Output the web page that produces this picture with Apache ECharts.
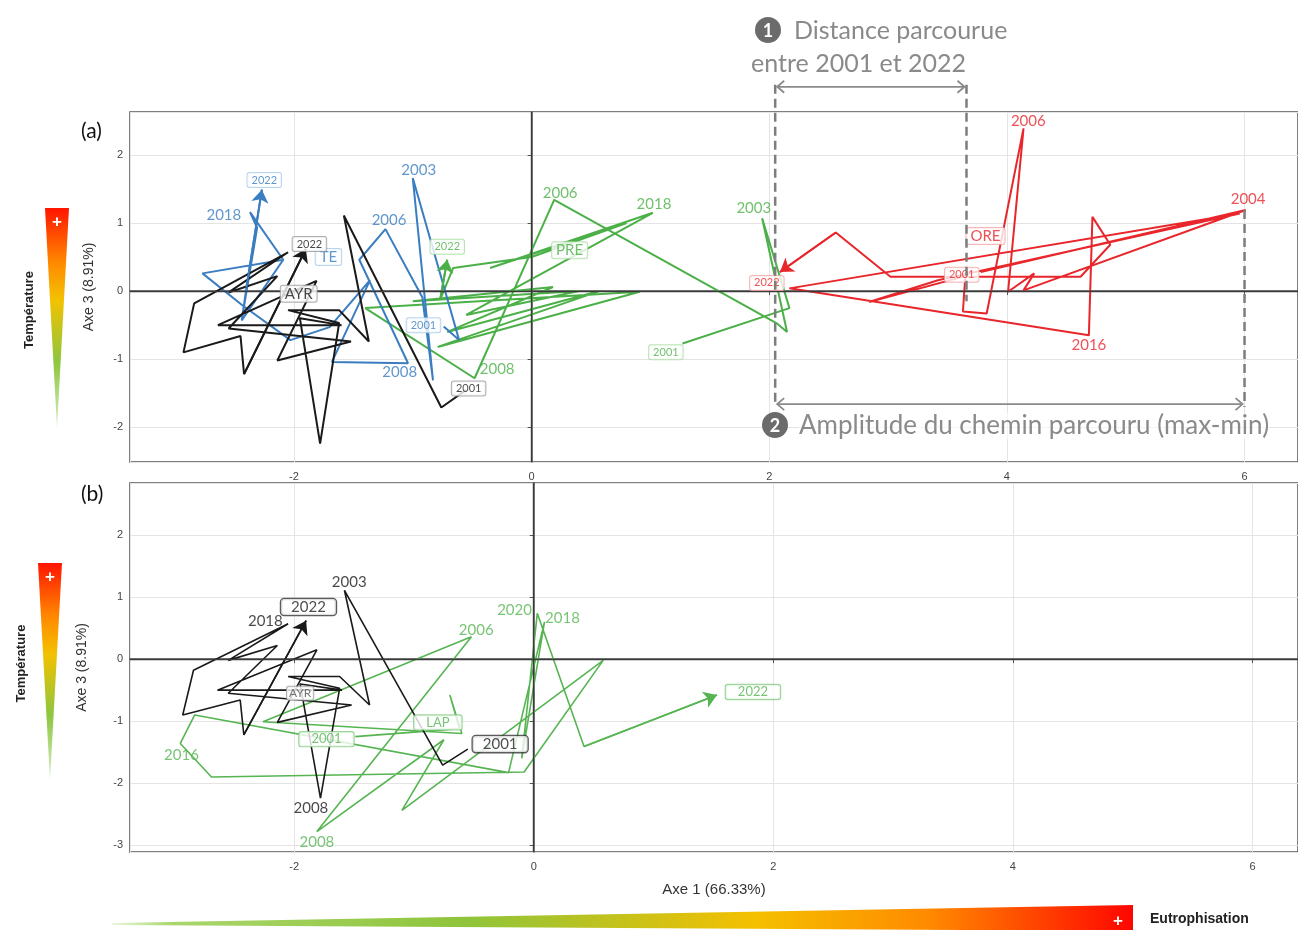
<!DOCTYPE html>
<html><head><meta charset="utf-8">
<script src="https://cdn.jsdelivr.net/npm/echarts@6/dist/echarts.min.js"></script>
<style>html,body{margin:0;padding:0;background:#fff}#c{width:1298px;height:930px}</style>
</head><body><div id="c"></div>
<script>
// ---------- data (Axe 1, Axe 3) ----------
const TE_a = [[-0.74,-0.52],[-0.61,-0.72],[-1.00,1.66],[-0.83,-1.31],[-0.92,-0.09],[-1.23,0.91],[-1.45,0.46],[-1.04,-1.06],[-1.68,-1.04],[-1.36,0.16],[-1.70,-0.53],[-2.03,-0.72],[-2.44,-0.20],[-2.77,0.26],[-2.09,0.46],[-2.44,-0.43],[-2.31,0.93],[-2.37,1.16],[-2.09,0.46],[-2.44,-0.43],[-2.40,0.05],[-2.27,1.49]];
const AYR = [[-0.55,-1.45],[-0.76,-1.71],[-1.58,1.11],[-1.37,-0.74],[-1.62,-0.28],[-2.05,-0.28],[-1.62,-0.47],[-1.78,-2.24],[-1.95,-0.40],[-1.60,-0.50],[-2.64,-0.50],[-1.81,0.15],[-2.14,-1.02],[-1.52,-0.74],[-2.55,-0.55],[-2.14,0.22],[-2.55,-0.02],[-2.05,0.57],[-2.84,-0.18],[-2.93,-0.90],[-2.45,-0.66],[-2.42,-1.22],[-1.90,0.62]];
const PRE_a = [[1.27,-0.77],[2.17,-0.25],[1.94,1.07],[2.15,-0.60],[2.06,-0.47],[0.19,1.34],[-0.48,-1.28],[-1.40,-0.25],[0.91,-0.01],[-0.79,-0.82],[0.57,0.00],[-0.71,-0.60],[0.18,0.06],[-1.00,-0.15],[0.40,0.00],[-0.55,-0.35],[1.02,1.15],[-0.35,0.34],[0.80,1.00],[0.00,0.50],[-0.66,0.34],[-0.77,-0.13],[-0.71,0.46]];
const ORE_a = [[3.78,0.28],[6.01,1.19],[4.14,0.01],[4.23,0.26],[4.01,-0.01],[4.14,2.39],[3.83,-0.33],[3.63,-0.30],[3.65,0.22],[2.84,-0.16],[3.42,0.16],[5.96,1.14],[2.17,0.04],[4.69,-0.65],[4.72,1.09],[4.87,0.68],[4.62,0.21],[3.02,0.21],[2.56,0.86],[2.09,0.28]];
const LAP_b = [[-1.49,-1.25],[-0.62,-1.12],[-0.70,-0.58],[-0.60,-1.20],[-2.26,-1.01],[-0.52,0.36],[-1.81,-2.78],[-0.75,-1.30],[-1.10,-2.44],[0.58,-0.02],[-0.08,-1.82],[-2.69,-1.90],[-2.95,-1.36],[-2.83,-0.90],[-0.21,-1.83],[0.09,0.60],[-0.10,-1.60],[0.03,0.74],[0.42,-1.41],[1.53,-0.58]];

// labels: [text, axe1, axe3, station, style]
const labelsA = [
 ['2022',-2.25,1.63,'TE','s'],['2018',-2.59,1.12,'TE','p'],['2003',-0.95,1.78,'TE','p'],
 ['2006',-1.20,1.04,'TE','p'],['TE',-1.71,0.50,'TE','n'],['2001',-0.91,-0.50,'TE','s'],['2008',-1.11,-1.19,'TE','p'],
 ['2022',-1.87,0.69,'AYR','s'],['AYR',-1.96,-0.04,'AYR','n'],['2001',-0.53,-1.43,'AYR','s'],
 ['2022',-0.71,0.65,'PRE','s'],['PRE',0.32,0.60,'PRE','n'],['2006',0.24,1.44,'PRE','p'],['2018',1.03,1.28,'PRE','p'],
 ['2008',-0.29,-1.15,'PRE','p'],['2003',1.87,1.22,'PRE','p'],['2001',1.13,-0.90,'PRE','s'],
 ['2006',4.18,2.50,'ORE','p'],['2004',6.03,1.35,'ORE','p'],['ORE',3.82,0.81,'ORE','n'],
 ['2001',3.62,0.24,'ORE','s'],['2022',1.98,0.12,'ORE','s'],['2016',4.69,-0.79,'ORE','p']
];
const labelsB = [
 ['2003',-1.54,1.24,'AYR','p'],['2022',-1.88,0.84,'AYR','B'],['2018',-2.24,0.61,'AYR','p'],
 ['AYR',-1.95,-0.55,'AYR','t'],['2008',-1.86,-2.40,'AYR','p'],['2001',-0.28,-1.37,'AYR','B'],
 ['2020',-0.16,0.79,'LAP','p'],['2018',0.24,0.66,'LAP','p'],['2006',-0.48,0.47,'LAP','p'],
 ['LAP',-0.80,-1.02,'LAP','g'],['2001',-1.73,-1.29,'LAP','g'],['2016',-2.94,-1.55,'LAP','p'],
 ['2008',-1.81,-2.95,'LAP','p'],['2022',1.83,-0.53,'LAP','g']
];
// annotation positions (Axe 1 / Axe 3 units, panel a)
const annX = [2.05, 3.66, 6.0];
const annY = {top:3.03, br1:3.0, br2:-1.66, bottom:-1.70, midEnd:-0.15, rightTop:1.19};

// ---------- styles ----------
const COL = {TE:'#3a7dc0', AYR:'#1a1a1a', PRE:'#4cb048', ORE:'#e8262b', LAP:'#56b552'};
const LIGHT = {TE:'#a9cbea', AYR:'#9a9a9a', PRE:'#a8dca2', ORE:'#f5a5a5', LAP:'#86cc83'};
const FONT = 'Lato, "Open Sans", sans-serif';

function labelItem(l){
  const [t,x,y,st,sty] = l;
  const lab = {show:true, position:'inside', color:COL[st], fontFamily:FONT, fontSize:15};
  if (sty==='s'){ Object.assign(lab,{fontSize:11, backgroundColor:'#fff', borderColor:LIGHT[st], borderWidth:1, borderRadius:2, padding:[2,4,1,4]}); }
  if (sty==='n'){ Object.assign(lab,{fontSize:15, backgroundColor:'#fff', borderColor:LIGHT[st], borderWidth:1, borderRadius:2, padding:[1,4,0,4]}); }
  if (sty==='B'){ Object.assign(lab,{fontSize:15, color:'#222', backgroundColor:'#fff', borderColor:'#333', borderWidth:1.3, borderRadius:3, padding:[1,10,0,10]}); }
  if (sty==='t'){ Object.assign(lab,{fontSize:12, color:'#555', backgroundColor:'#fff', borderColor:'#999', borderWidth:1, borderRadius:2, padding:[1,2,0,2]}); }
  if (sty==='g'){ Object.assign(lab,{fontSize:13, backgroundColor:'#fff', borderColor:LIGHT[st], borderWidth:1.2, borderRadius:2, padding:[1,12,0,12]}); }
  return {name:t, value:[x,y], label:lab};
}

function track(data, st, gi, width){
  return [{
    type:'line', xAxisIndex:gi, yAxisIndex:gi, data:data, showSymbol:false, symbol:'none',
    lineStyle:{color:COL[st], width:width}, z:3, silent:true, animation:false
  },{
    type:'lines', coordinateSystem:'cartesian2d', xAxisIndex:gi, yAxisIndex:gi, z:4, silent:true, animation:false,
    symbol:['none','arrow'], symbolSize:[11,13],
    lineStyle:{color:COL[st], width:width, opacity:1, curveness:0},
    data:[{coords:[data[data.length-2], data[data.length-1]]}]
  }];
}

function zeroLines(gi){
  return {type:'scatter', xAxisIndex:gi, yAxisIndex:gi, data:[[0,0]], symbolSize:0, silent:true, z:2,
    markLine:{silent:true, symbol:'none', animation:false, label:{show:false},
      lineStyle:{color:'#3a3a3a', width:1.4, type:'solid'}, data:[{xAxis:0},{yAxis:0}]}};
}

function xAx(gi,min,max,name){
  return {gridIndex:gi, type:'value', min:min, max:max, minInterval:2, maxInterval:2,
    name:name||'', nameLocation:'middle', nameGap:30,
    nameTextStyle:{fontSize:15, color:'#333', fontFamily:'"Liberation Sans", Arial, sans-serif'},
    axisLine:{show:true, lineStyle:{color:'#555', width:1.5}},
    axisTick:{show:true, length:4, lineStyle:{color:'#555'}},
    axisLabel:{showMinLabel:false, showMaxLabel:false, fontSize:11, color:'#444', margin:9, fontFamily:'"Liberation Sans", Arial, sans-serif'},
    splitLine:{show:true, lineStyle:{color:'#e4e4e4', width:1}}};
}
function yAx(gi,min,max,gap){
  return {gridIndex:gi, type:'value', min:min, max:max, minInterval:1, maxInterval:1,
    name:'Axe 3 (8.91%)', nameLocation:'middle', nameGap:gap, nameRotate:90,
    nameTextStyle:{fontSize:14, color:'#333', fontFamily:'"Liberation Sans", Arial, sans-serif'},
    axisLine:{show:true, lineStyle:{color:'#555', width:1.5}},
    axisTick:{show:true, length:4, lineStyle:{color:'#555'}},
    axisLabel:{showMinLabel:false, showMaxLabel:false, fontSize:11, color:'#444', margin:7, fontFamily:'"Liberation Sans", Arial, sans-serif'},
    splitLine:{show:true, lineStyle:{color:'#e4e4e4', width:1}}};
}

const chart = echarts.init(document.getElementById('c'), null, {renderer:'canvas'});
const series = [
  zeroLines(0), zeroLines(1),
  ...track(PRE_a,'PRE',0,2), ...track(ORE_a,'ORE',0,2), ...track(TE_a,'TE',0,2), ...track(AYR,'AYR',0,2),
  ...track(LAP_b,'LAP',1,1.6), ...track(AYR,'AYR',1,1.6),
  {type:'scatter', xAxisIndex:0, yAxisIndex:0, symbolSize:1, itemStyle:{color:'rgba(0,0,0,0)'}, z:6, silent:true, animation:false,
   label:{show:true, formatter:'{b}'}, labelLayout:{hideOverlap:false}, data:labelsA.map(labelItem)},
  {type:'scatter', xAxisIndex:1, yAxisIndex:1, symbolSize:1, itemStyle:{color:'rgba(0,0,0,0)'}, z:6, silent:true, animation:false,
   label:{show:true, formatter:'{b}'}, labelLayout:{hideOverlap:false}, data:labelsB.map(labelItem)}
];

chart.setOption({
  animation:false, backgroundColor:'#fff',
  grid:[
    {left:130, top:112, width:1170, height:350, show:true, borderColor:'#555', borderWidth:1.5, backgroundColor:'#fff'},
    {left:130, top:483, width:1170, height:369, show:true, borderColor:'#555', borderWidth:1.5, backgroundColor:'#fff'}
  ],
  xAxis:[xAx(0,-3.38,6.45), xAx(1,-3.37,6.38,'Axe 1 (66.33%)')],
  yAxis:[yAx(0,-2.51,2.63,34), yAx(1,-3.11,2.84,41)],
  series:series
});

// ---------- decorations ----------
const P = (x,y)=>chart.convertToPixel({xAxisIndex:0,yAxisIndex:0},[x,y]);
const gray='#7d7d7d', lightGray='#8a8a8a';
const pL=P(annX[0],annY.top), pM=P(annX[1],annY.top), pR=P(annX[2],annY.rightTop);
const yB1=P(0,annY.br1)[1], yB2=P(0,annY.br2)[1], yBot=P(0,annY.bottom)[1], yMid=P(0,annY.midEnd)[1];
const dash={stroke:gray, lineWidth:2.5, lineDash:[9,5]};
const g=[];
g.push({type:'line', shape:{x1:pL[0],y1:pL[1],x2:pL[0],y2:yBot}, style:dash, z:10});
g.push({type:'line', shape:{x1:pM[0],y1:pM[1],x2:pM[0],y2:yMid}, style:dash, z:10});
g.push({type:'line', shape:{x1:pR[0],y1:pR[1],x2:pR[0],y2:yBot}, style:dash, z:10});
function bracket(xa,xb,y){
  const s={stroke:lightGray, lineWidth:1.8, fill:null};
  g.push({type:'line', shape:{x1:xa+2,y1:y,x2:xb-2,y2:y}, style:s, z:11});
  g.push({type:'polyline', shape:{points:[[xa+9,y-6],[xa+2,y],[xa+9,y+6]]}, style:s, z:11});
  g.push({type:'polyline', shape:{points:[[xb-9,y-6],[xb-2,y],[xb-9,y+6]]}, style:s, z:11});
}
bracket(pL[0],pM[0],yB1);
bracket(pL[0],pR[0],yB2);
function numCircle(cx,cy,t){
  g.push({type:'circle', shape:{cx:cx,cy:cy,r:13}, style:{fill:'#6b6b6b'}, z:12});
  g.push({type:'text', x:cx, y:cy+1, style:{text:t, fill:'#fff', font:'bold 18px '+FONT, align:'center', verticalAlign:'middle'}, z:13});
}
numCircle(768,30,'1');
g.push({type:'text', x:794, y:31, style:{text:'Distance parcourue', fill:'#8a8a8a', font:'25px '+FONT, align:'left', verticalAlign:'middle'}, z:12});
g.push({type:'text', x:751, y:64, style:{text:'entre 2001 et 2022', fill:'#8a8a8a', font:'25px '+FONT, align:'left', verticalAlign:'middle'}, z:12});
numCircle(775,425,'2');
g.push({type:'text', x:799, y:426, style:{text:'Amplitude du chemin parcouru (max-min)', fill:'#8a8a8a', font:'26px '+FONT, align:'left', verticalAlign:'middle', backgroundColor:'rgba(255,255,255,0.6)'}, z:12});

// panel letters
g.push({type:'text', x:81, y:131, style:{text:'(a)', fill:'#111', font:'21px '+FONT, verticalAlign:'middle'}, z:12});
g.push({type:'text', x:81, y:494, style:{text:'(b)', fill:'#111', font:'21px '+FONT, verticalAlign:'middle'}, z:12});

// temperature wedges
const vGrad = new echarts.graphic.LinearGradient(0,0,0,1,[
  {offset:0,color:'#ff1400'},{offset:0.25,color:'#ff8a00'},{offset:0.42,color:'#f2c200'},
  {offset:0.7,color:'#8dc63f'},{offset:1,color:'#d8efc4'}]);
const narrowBold = 'bold 13px "Liberation Sans Narrow", "Liberation Sans", Arial, sans-serif';
function tempWedge(x0,top,bot,tx){
  g.push({type:'polygon', shape:{points:[[x0,top],[x0+24,top],[x0+12,bot]]}, style:{fill:vGrad}, z:5});
  g.push({type:'text', x:x0+12, y:top+14, style:{text:'+', fill:'#fff', font:'bold 17px Arial', align:'center', verticalAlign:'middle'}, z:6});
  g.push({type:'text', x:tx, y:(top+bot)/2-8, rotation:Math.PI/2, style:{text:'Température', fill:'#222', font:narrowBold, align:'center', verticalAlign:'middle'}, z:6});
}
tempWedge(45,208,428,29);
tempWedge(38,563,780,21);

// eutrophisation wedge
const hGrad = new echarts.graphic.LinearGradient(0,0,1,0,[
  {offset:0,color:'#eaf6de'},{offset:0.06,color:'#a9d66c'},{offset:0.35,color:'#8fc43a'},
  {offset:0.63,color:'#f5c000'},{offset:0.8,color:'#ff8a00'},{offset:1,color:'#ff0500'}]);
g.push({type:'polygon', shape:{points:[[112,923],[1133,905],[1133,931],[112,925]]}, style:{fill:hGrad}, z:5});
g.push({type:'text', x:1118, y:921, style:{text:'+', fill:'#fff', font:'bold 17px Arial', align:'center', verticalAlign:'middle'}, z:6});
g.push({type:'text', x:1150, y:919, style:{text:'Eutrophisation', fill:'#222', font:'bold 14px "Liberation Sans Narrow", "Liberation Sans", Arial, sans-serif', align:'left', verticalAlign:'middle'}, z:6});

chart.setOption({graphic:{elements:g}});
</script>
</body></html>
